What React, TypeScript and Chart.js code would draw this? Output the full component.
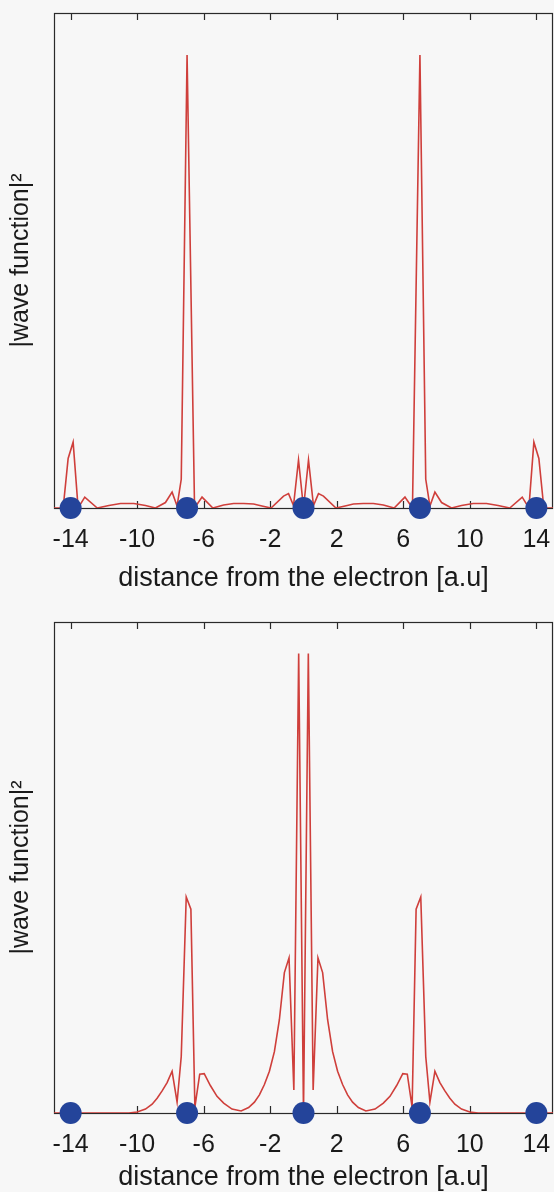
import React, { useEffect, useRef } from "react";
import { Chart, registerables } from "chart.js";

Chart.register(...registerables);

// ---- data ----
const tickValues = [-14, -10, -6, -2, 2, 6, 10, 14];
const tickLabels = ["-14", "-10", "-6", "-2", "2", "6", "10", "14"];

const nucleusX = [-14, -7, 0, 7, 14];
const nucleusY = [0, 0, 0, 0, 0];

const topX = [
  -15, -14.45, -14.15, -13.85, -13.55, -13.15, -12.4, -11.7, -11.0, -10.2, -9.5, -8.9, -8.3, -7.9, -7.6, -7.35,
  -7.0, -6.55, -6.1, -5.45, -4.8, -4.2, -3.6, -3.0, -2.5, -1.95, -1.2, -0.9, -0.6, -0.3,
  0,
  0.3, 0.6, 0.9, 1.2, 1.95, 2.5, 3.0, 3.6, 4.2, 4.8, 5.45, 6.1, 6.55, 7.0,
  7.35, 7.6, 7.9, 8.3, 8.9, 9.5, 10.2, 11.0, 11.7, 12.4, 13.15, 13.55, 13.85, 14.15, 14.45, 15,
];
const topY = [
  0, 0, 0.1, 0.133, 0, 0.022, 0, 0.005, 0.009, 0.009, 0.005, 0, 0.011, 0.032, 0.004, 0.058,
  0.915, 0, 0.022, 0, 0.006, 0.009, 0.009, 0.008, 0.004, 0, 0.024, 0.029, 0.005, 0.097,
  0,
  0.097, 0.005, 0.029, 0.024, 0, 0.004, 0.008, 0.009, 0.009, 0.006, 0, 0.022, 0, 0.915,
  0.058, 0.004, 0.032, 0.011, 0, 0.005, 0.009, 0.009, 0.005, 0, 0.022, 0, 0.133, 0.1, 0, 0,
];

const bottomX = [
  -15, -10.5, -10.0, -9.5, -9.1, -8.8, -8.5, -8.2, -7.9, -7.6, -7.35, -7.05, -6.77, -6.53, -6.24, -5.97,
  -5.6, -5.2, -4.8, -4.3, -3.75, -3.3, -2.95, -2.65, -2.35, -2.05, -1.75, -1.45, -1.15, -0.87, -0.58, -0.29,
  0,
  0.29, 0.58, 0.87, 1.15, 1.45, 1.75, 2.05, 2.35, 2.65, 2.95, 3.3, 3.75, 4.3, 4.8, 5.2, 5.6,
  5.97, 6.24, 6.53, 6.77, 7.05, 7.35, 7.6, 7.9, 8.2, 8.5, 8.8, 9.1, 9.5, 10.0, 10.5, 15,
];
const bottomY = [
  0, 0, 0.002, 0.008, 0.018, 0.03, 0.045, 0.062, 0.085, 0.022, 0.115, 0.44, 0.415, 0.012, 0.079, 0.08,
  0.056, 0.034, 0.02, 0.008, 0.004, 0.011, 0.022, 0.037, 0.058, 0.085, 0.125, 0.19, 0.286, 0.316, 0.047, 0.936,
  0,
  0.936, 0.047, 0.316, 0.286, 0.19, 0.125, 0.085, 0.058, 0.037, 0.022, 0.011, 0.004, 0.008, 0.02, 0.034, 0.056,
  0.08, 0.079, 0.012, 0.415, 0.44, 0.115, 0.022, 0.085, 0.062, 0.045, 0.03, 0.018, 0.008, 0.002, 0, 0,
];

const xTitle = "distance from the electron [a.u]";
const yTitle = "|wave function|\u00B2";

// ---- style ----
const RED = "#cf3f3b";
const BLUE = "#24449a";
const FRAME = "#2a2a2a";
const TEXT = "#1a1a1a";
const FONT_FAMILY = "'Liberation Sans', Arial, Helvetica, sans-serif";
const CLEAR = "rgba(0,0,0,0)";

const framePlugin = {
  id: "frameTicks",
  beforeDatasetsDraw(chart: any) {
    const { ctx, chartArea } = chart;
    const xs = chart.scales.x;
    ctx.save();
    ctx.strokeStyle = FRAME;
    ctx.lineWidth = 1.2;
    ctx.strokeRect(
      Math.round(chartArea.left) + 0.5,
      Math.round(chartArea.top) + 0.5,
      Math.round(chartArea.right - chartArea.left) - 1,
      Math.round(chartArea.bottom - chartArea.top)
    );
    const len = 7;
    for (const v of tickValues) {
      const px = Math.round(xs.getPixelForValue(v)) + 0.5;
      ctx.beginPath();
      ctx.moveTo(px, chartArea.bottom);
      ctx.lineTo(px, chartArea.bottom - len);
      ctx.moveTo(px, chartArea.top);
      ctx.lineTo(px, chartArea.top + len);
      ctx.stroke();
    }
    ctx.restore();
  },
};

type PanelProps = {
  xs: number[];
  ys: number[];
  height: number;
  padTop: number;
  axisHeight: number;
  tickPad: number;
  titlePad: number;
};

function Panel({ xs, ys, height, padTop, axisHeight, tickPad, titlePad }: PanelProps) {
  const ref = useRef<HTMLCanvasElement | null>(null);
  useEffect(() => {
    if (!ref.current) return;
    const tickFont = { family: FONT_FAMILY, size: 25 };
    const xTitleFont = { family: FONT_FAMILY, size: 27 };
    const yTitleFont = { family: FONT_FAMILY, size: 25 };
    const chart = new Chart(ref.current, {
      type: "line",
      data: {
        datasets: [
          {
            data: nucleusX.map((x, i) => ({ x, y: nucleusY[i] })),
            showLine: false,
            pointRadius: 11,
            pointHoverRadius: 11,
            pointBackgroundColor: BLUE,
            pointBorderColor: BLUE,
            pointBorderWidth: 0,
            clip: false,
            order: 0,
          } as any,
          {
            data: xs.map((x, i) => ({ x, y: ys[i] })),
            borderColor: RED,
            borderWidth: 1.6,
            pointRadius: 0,
            tension: 0,
            fill: false,
            order: 1,
          } as any,
        ],
      },
      options: {
        animation: false,
        responsive: false,
        maintainAspectRatio: false,
        layout: { autoPadding: false, padding: { top: padTop, right: 1, left: 0, bottom: 0 } },
        plugins: { legend: { display: false }, tooltip: { enabled: false } },
        scales: {
          x: {
            type: "linear",
            min: -15,
            max: 15,
            afterBuildTicks: (s: any) => {
              s.ticks = tickValues.map((v) => ({ value: v }));
            },
            ticks: {
              autoSkip: false,
              maxRotation: 0,
              padding: 0,
              color: TEXT,
              font: tickFont,
              callback: (v: any) => {
                const i = tickValues.indexOf(Number(v));
                return i >= 0 ? tickLabels[i] : "";
              },
            },
            grid: {
              display: true,
              drawOnChartArea: false,
              drawTicks: true,
              tickLength: tickPad,
              color: CLEAR,
              tickColor: CLEAR,
            },
            border: { display: false },
            title: {
              display: true,
              text: xTitle,
              color: TEXT,
              font: xTitleFont,
              padding: { top: 0, bottom: titlePad },
            },
            afterFit: (s: any) => {
              s.height = axisHeight;
            },
          },
          y: {
            type: "linear",
            min: 0,
            max: 1,
            ticks: { display: false },
            grid: { display: false, drawTicks: false },
            border: { display: false },
            title: {
              display: true,
              text: yTitle,
              color: TEXT,
              font: yTitleFont,
              padding: { top: 6, bottom: 0 },
            },
            afterFit: (s: any) => {
              s.width = 54;
            },
          },
        },
      },
      plugins: [framePlugin],
    } as any);
    return () => chart.destroy();
  }, [xs, ys, height, padTop, axisHeight, tickPad, titlePad]);
  return (
    <div style={{ width: 554, height, position: "relative" }}>
      <canvas ref={ref} width={554} height={height} style={{ display: "block" }} />
    </div>
  );
}

export default function App() {
  useEffect(() => {
    document.body.style.margin = "0";
    document.body.style.background = "#f7f7f7";
  }, []);
  return (
    <div style={{ width: 554, height: 1192, background: "#f7f7f7", overflow: "hidden" }}>
      <Panel xs={topX} ys={topY} height={600} padTop={13} axisHeight={92} tickPad={17} titlePad={5} />
      <Panel xs={bottomX} ys={bottomY} height={592} padTop={22} axisHeight={79} tickPad={17} titlePad={-2} />
    </div>
  );
}
